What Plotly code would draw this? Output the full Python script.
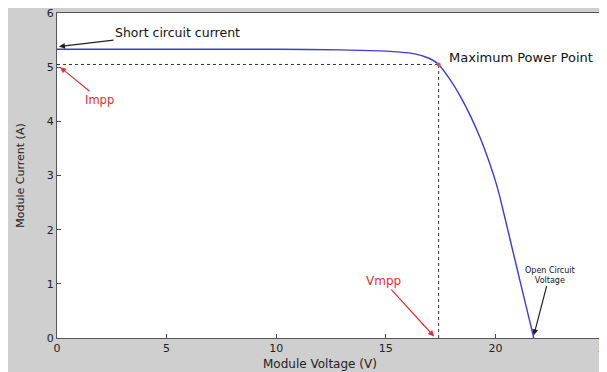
import plotly.graph_objects as go

# I-V curve data
voltage = [0, 5, 10, 13, 14.75, 16.27, 17.0, 17.41, 17.95, 18.4, 18.86, 19.3, 19.62, 20.0, 20.23, 20.68, 21.22, 21.6, 21.75]
current = [5.33, 5.33, 5.33, 5.32, 5.30, 5.25, 5.16, 5.05, 4.76, 4.46, 4.10, 3.70, 3.36, 2.90, 2.56, 1.80, 0.89, 0.25, 0.0]

v_mpp = 17.41
i_mpp = 5.05

x_ticks = [0, 5, 10, 15, 20, 25]
y_ticks = [0, 1, 2, 3, 4, 5, 6]

# page has an 8px body margin, so the figure sits 8px in from the top-left corner
W, H = 599, 364
ml, mr, mt, mb = 49, 2, 5, 34
pw, ph = W - ml - mr, H - mt - mb

fig = go.Figure()

fig.add_trace(go.Scatter(x=voltage, y=current, mode="lines",
                         line=dict(color="#3c3cd4", width=1.4, shape="spline", smoothing=0.6), hoverinfo="skip"))
# dotted guide lines
fig.add_trace(go.Scatter(x=[0, v_mpp], y=[i_mpp, i_mpp], mode="lines", line=dict(color="#333", width=1, dash="dot")))
fig.add_trace(go.Scatter(x=[v_mpp, v_mpp], y=[0, i_mpp], mode="lines", line=dict(color="#333", width=1, dash="dot")))
fig.add_trace(go.Scatter(x=[v_mpp], y=[i_mpp], mode="markers", marker=dict(color="#e05050", size=4)))

font = "DejaVu Sans, Verdana, sans-serif"
ann = [
    dict(x=0.09, y=5.38, ax=5.5, ay=5.64, text="Short circuit current", color="#111", size=12.5, arrow="#222"),
    dict(x=0.14, y=5.0, ax=1.96, ay=4.40, text="Impp", color="#e03030", size=11.5, arrow="#e03030"),
    dict(x=17.2, y=0.03, ax=14.9, ay=1.05, text="Vmpp", color="#e03030", size=12, arrow="#e03030"),
    dict(x=21.75, y=0.05, ax=22.47, ay=1.16, text="Open Circuit<br>Voltage", color="#111", size=8, arrow="#222"),
]
annotations = []
for a in ann:
    annotations.append(dict(x=a["x"], y=a["y"], ax=a["ax"], ay=a["ay"], axref="x", ayref="y", xref="x", yref="y",
                            text=a["text"], showarrow=True, arrowhead=2, arrowsize=1, arrowwidth=1.2,
                            arrowcolor=a["arrow"], font=dict(family=font, size=a["size"], color=a["color"])))
annotations.append(dict(x=21.15, y=5.18, xref="x", yref="y", text="Maximum Power Point", showarrow=False,
                        font=dict(family=font, size=13, color="#111")))
# x axis title (slightly left of centre, as in the reference)
annotations.append(dict(x=(320 - 57) / pw, y=-(364 - 338) / ph, xref="paper", yref="paper",
                        text="Module Voltage (V)", showarrow=False, xanchor="center", yanchor="middle",
                        font=dict(family=font, size=12, color="#222")))

fig.update_layout(
    width=W, height=H,
    margin=dict(l=ml, r=mr, t=mt, b=mb),
    paper_bgcolor="#cfcfcf", plot_bgcolor="#ffffff",
    showlegend=False,
    annotations=annotations,
    font=dict(family=font, size=10.5, color="#222"),
    xaxis=dict(range=[0, 25], tickvals=x_ticks, ticks="inside", ticklen=4, tickcolor="#444",
               showline=True, linecolor="#555", linewidth=1.2, mirror=True, showgrid=False, zeroline=False,
               automargin=False, ticklabeloverflow="allow",
               tickfont=dict(size=11)),
    yaxis=dict(range=[0, 6], tickvals=y_ticks, ticks="inside", ticklen=4, tickcolor="#444",
               showline=True, linecolor="#555", linewidth=1.2, mirror=True, showgrid=False, zeroline=False,
               automargin=False, ticklabeloverflow="allow",
               title=dict(text="Module Current (A)", standoff=19, font=dict(size=11)),
               tickfont=dict(size=11)),
)

fig.write_html("out.html")
